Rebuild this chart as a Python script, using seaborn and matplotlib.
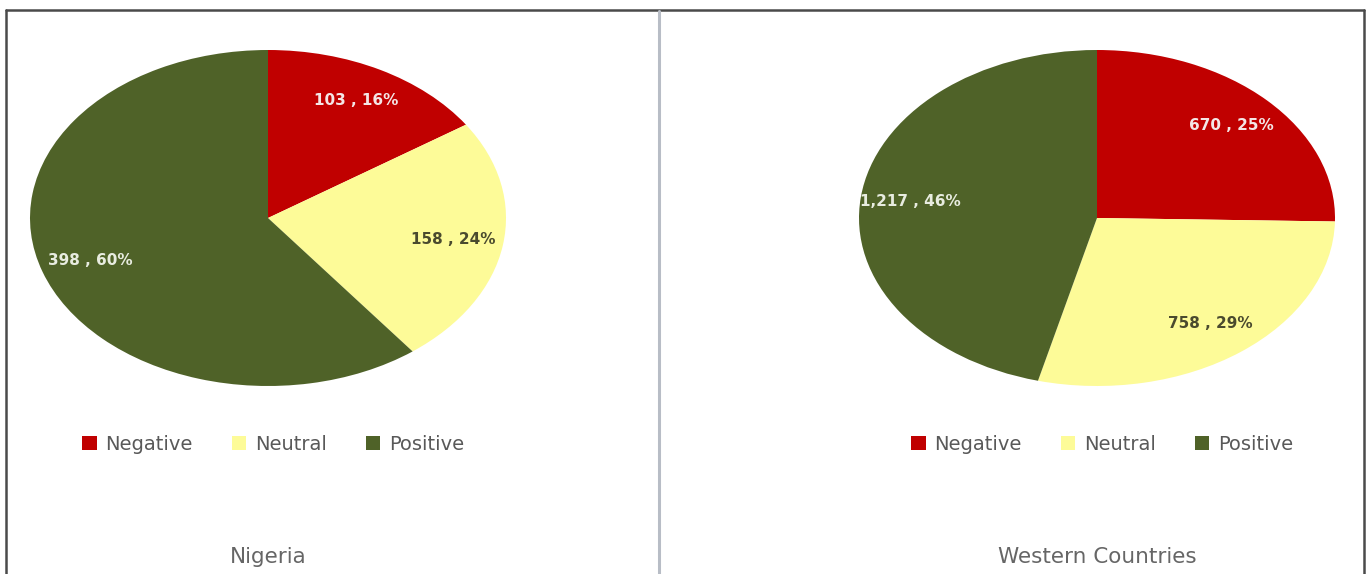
import matplotlib
matplotlib.use("Agg")
import matplotlib.pyplot as plt
from matplotlib.lines import Line2D
from matplotlib.patches import Patch
import seaborn as sns

sns.set_theme(style="white")
plt.rcParams["font.family"] = ["DejaVu Sans"]

categories = ["Negative", "Neutral", "Positive"]
nigeria_counts = [103, 158, 398]
western_counts = [670, 758, 1217]
panel_titles = ["Nigeria", "Western Countries"]

palette = sns.color_palette(["#c00000", "#fdfb98", "#4f6228"])
label_colors = ["#f4e6e6", "#4a4a2e", "#e8ece0"]

W, H = 1370, 574
fig = plt.figure(figsize=(W / 100, H / 100), dpi=100)
fig.patch.set_facecolor("white")


def fx(px):
    return px / W


def fy(py):
    return 1 - py / H


def draw_pie(counts, cx, title):
    rx, ry = 238, 168
    cy = 218
    ax = fig.add_axes([fx(cx - rx), fy(cy + ry), 2 * rx / W, 2 * ry / H])
    total = sum(counts)

    def fmt(pct):
        val = int(round(pct * total / 100.0))
        return f"{val:,} , {pct:.0f}%"

    wedges, _, autotexts = ax.pie(
        counts,
        colors=palette,
        startangle=90,
        counterclock=False,
        autopct=fmt,
        pctdistance=0.79,
        radius=1.0,
        wedgeprops=dict(linewidth=0),
        textprops=dict(fontsize=11, fontweight="bold"),
    )
    for t, c in zip(autotexts, label_colors):
        t.set_color(c)
    ax.set_aspect("auto")
    ax.set_xlim(-1, 1)
    ax.set_ylim(-1, 1)
    ax.axis("off")

    handles = [Patch(facecolor=col, edgecolor="none") for col in palette]
    ax.legend(
        handles,
        categories,
        loc="center",
        bbox_to_anchor=(fx(cx + 5), fy(444)),
        bbox_transform=fig.transFigure,
        ncol=3,
        frameon=False,
        fontsize=14,
        labelcolor="#595959",
        handlelength=0.75,
        handleheight=0.75,
        handletextpad=0.45,
        columnspacing=2.0,
    )
    fig.text(fx(cx), fy(557), title, ha="center", va="center",
             fontsize=15.5, color="#666666")


draw_pie(nigeria_counts, 268, panel_titles[0])
draw_pie(western_counts, 1097, panel_titles[1])

# outer frame and panel divider
frame = "#4a4a4a"
fig.add_artist(Line2D([fx(6), fx(1364)], [fy(10), fy(10)], color=frame, lw=1.8))
fig.add_artist(Line2D([fx(6), fx(6)], [fy(10), 0], color=frame, lw=1.8))
fig.add_artist(Line2D([fx(1364), fx(1364)], [fy(10), 0], color=frame, lw=1.8))
fig.add_artist(Line2D([fx(659), fx(659)], [fy(11), 0], color="#b8bdc6", lw=2.2))

fig.savefig("out.png", dpi=100, facecolor="white")
